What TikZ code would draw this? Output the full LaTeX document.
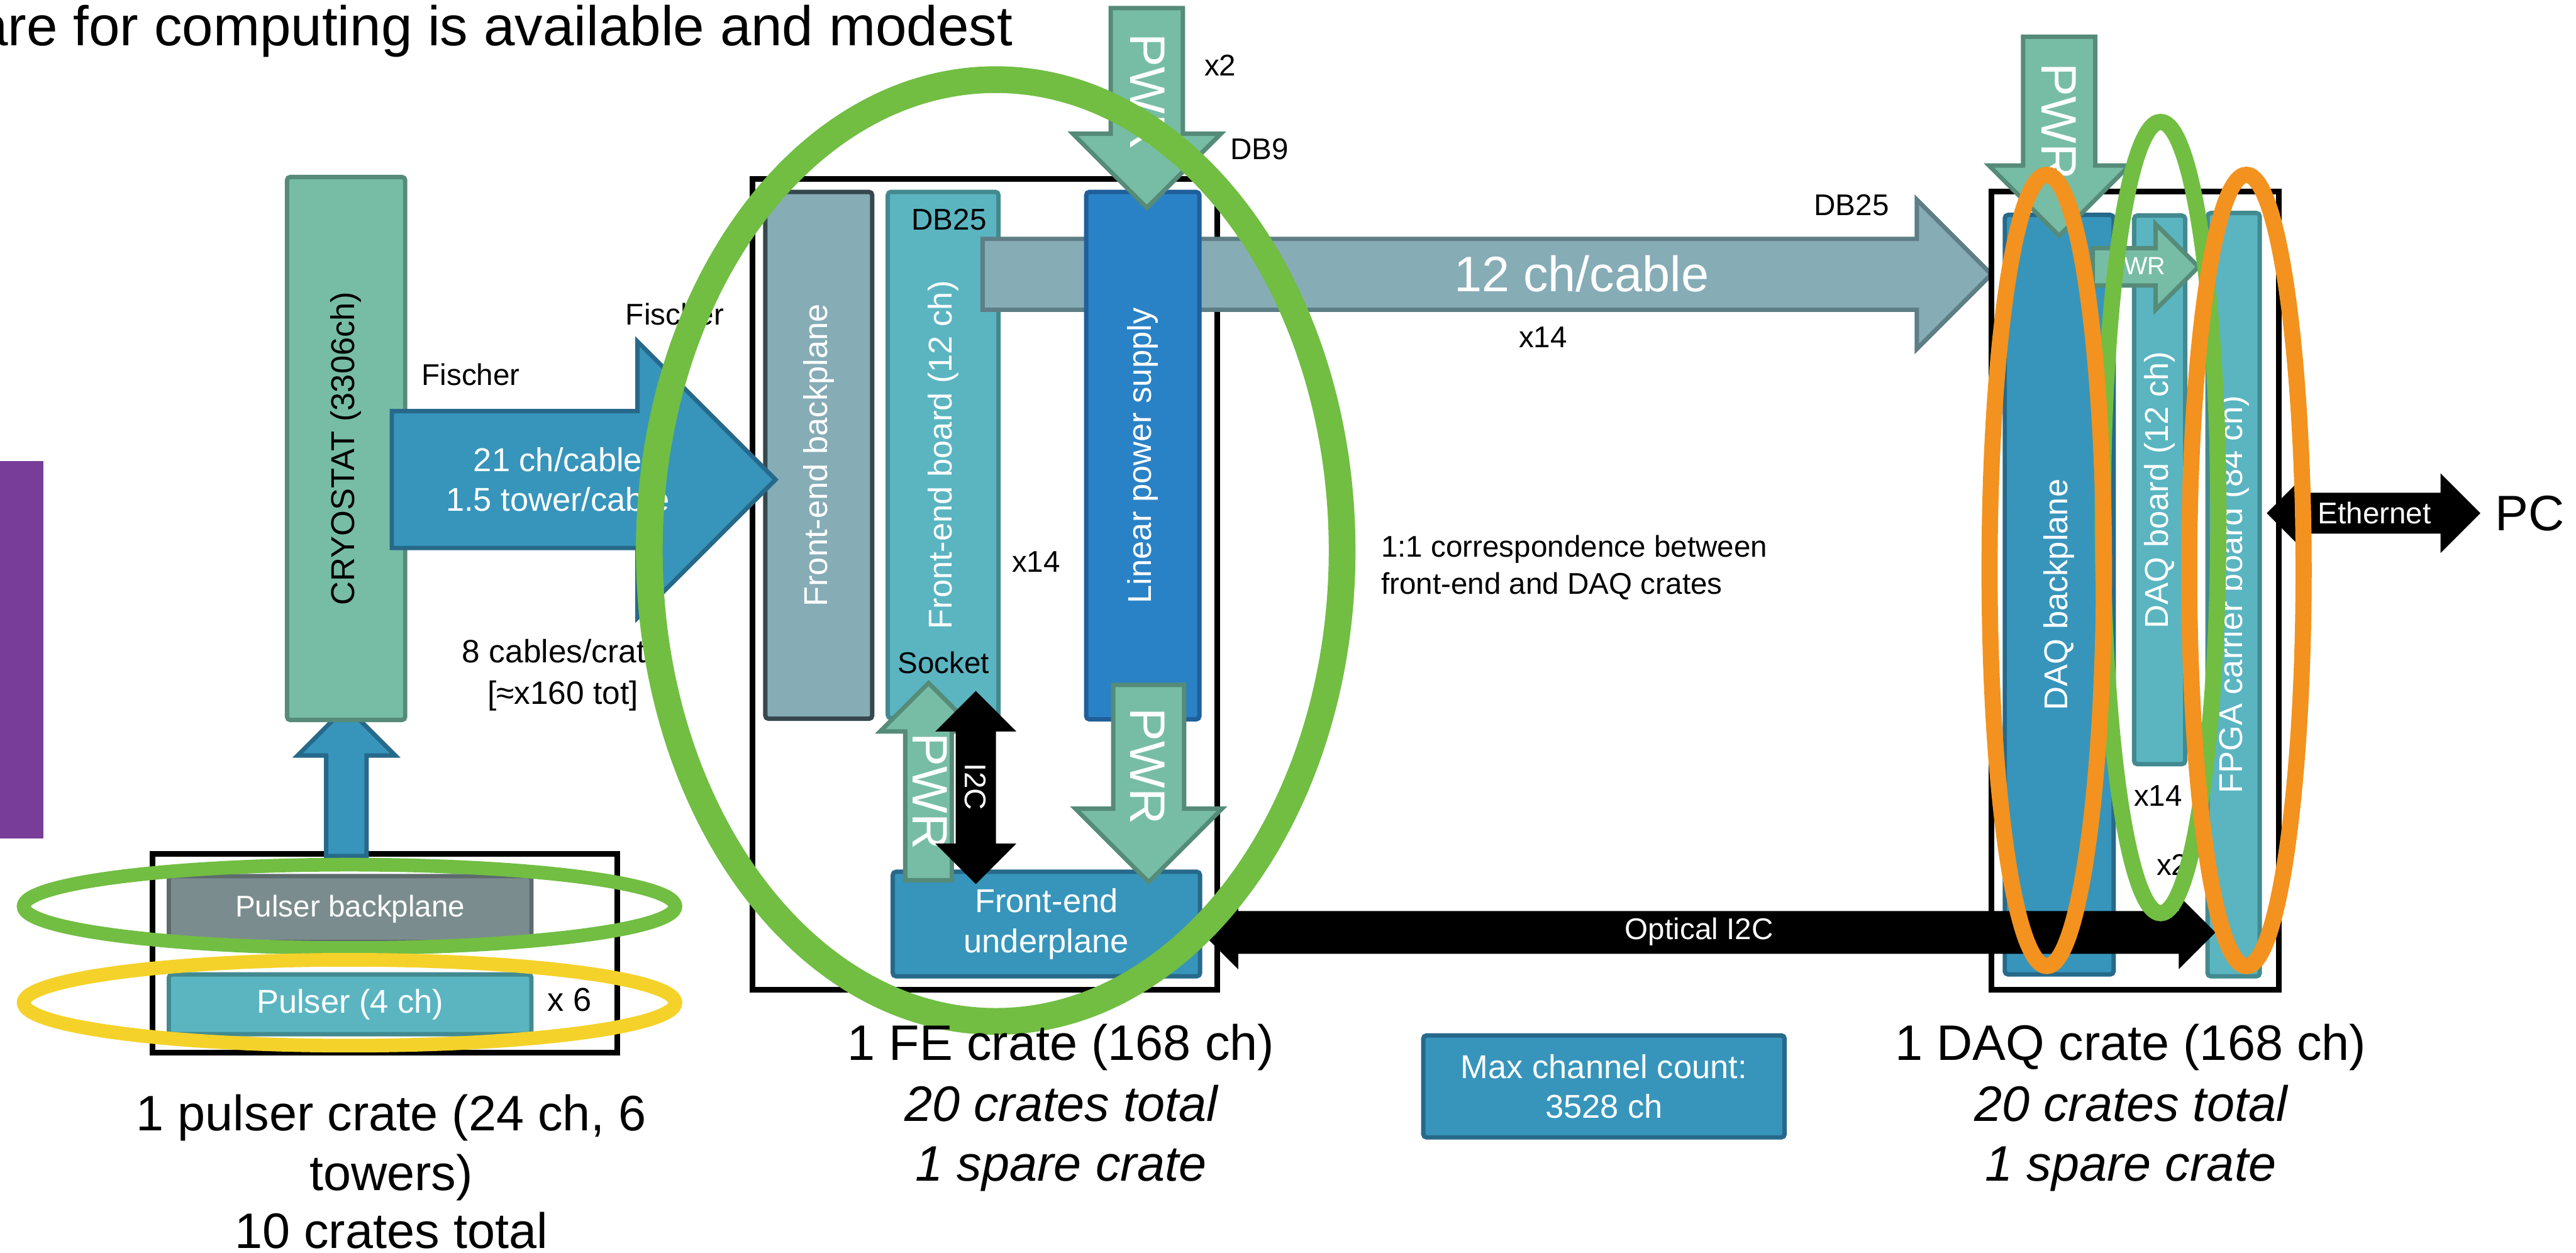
\documentclass[tikz,border=0pt]{standalone}
\usepackage{fontspec}
\setmainfont{Liberation Sans}

\definecolor{PwrClr}{HTML}{77BDA5}
\definecolor{PwrEdge}{HTML}{558B78}
\definecolor{SteelClr}{HTML}{3795BB}
\definecolor{SteelEdge}{HTML}{27698A}
\definecolor{BoardClr}{HTML}{5AB5C1}
\definecolor{BoardEdge}{HTML}{428A90}
\definecolor{PlaneClr}{HTML}{86ACB6}
\definecolor{PlaneEdge}{HTML}{36474D}
\definecolor{CableEdge}{HTML}{5E7E86}
\definecolor{SupplyClr}{HTML}{2A82C6}
\definecolor{SupplyEdge}{HTML}{1F5F9A}
\definecolor{PulserBpClr}{HTML}{7B8C8E}
\definecolor{PulserBpEdge}{HTML}{5E6B6D}
\definecolor{RingGreen}{HTML}{71BE43}
\definecolor{RingOrange}{HTML}{F3921E}
\definecolor{RingYellow}{HTML}{F5D22A}
\definecolor{BarPurple}{HTML}{773D98}

\newcommand{\fntTitle}{\fontsize{25.6}{30}\selectfont}
\newcommand{\fntCap}{\fontsize{22.8}{27.9}\selectfont}
\newcommand{\fntBox}{\fontsize{15.1}{18.2}\selectfont}
\newcommand{\fntLbl}{\fontsize{13.7}{16.8}\selectfont}
\newcommand{\fntPwr}{\fontsize{11.4}{13}\selectfont}

% block arrow with a square tip: [style]{tail}{angle}{length}{shaft width}{head width}
\newcommand{\blockarrow}[6][]{%
  \draw[#1,shift={(#2)},rotate=#3] (0,-#5/2) -- (#4-#6/2,-#5/2) -- (#4-#6/2,-#6/2)
    -- (#4,0) -- (#4-#6/2,#6/2) -- (#4-#6/2,#5/2) -- (0,#5/2) -- cycle;}
% same, with a head at both ends
\newcommand{\dblarrow}[6][]{%
  \draw[#1,shift={(#2)},rotate=#3] (0,0) -- (#6/2,#6/2) -- (#6/2,#5/2) -- (#4-#6/2,#5/2)
    -- (#4-#6/2,#6/2) -- (#4,0) -- (#4-#6/2,-#6/2) -- (#4-#6/2,-#5/2)
    -- (#6/2,-#5/2) -- (#6/2,-#6/2) -- cycle;}

\begin{document}
\begin{tikzpicture}[
  panel/.style={draw,line width=2pt,rounded corners=1.5pt,inner sep=0pt,text=white,font=\fntBox},
  crate/.style={draw,line width=2.6pt,inner sep=0pt},
  lbl/.style={inner sep=0pt,font=\fntLbl},
  caption/.style={anchor=base,inner sep=0pt,font=\fntCap},
  pwrarrow/.style={fill=PwrClr,draw=PwrEdge,line width=2pt},
  bluearrow/.style={fill=SteelClr,draw=SteelEdge,line width=2pt},
  cablearrow/.style={fill=PlaneClr,draw=CableEdge,line width=2pt},
  blackarrow/.style={fill=black,draw=black,line width=.5pt},
  pwrtext/.style={rotate=-90,text=white,inner sep=0pt,font=\fntCap}
]
\useasboundingbox (0,0) rectangle (41.42,-20.14);

\node[anchor=base east,inner sep=0pt,font=\fntTitle] (title) at (16.29,-0.73)
  {are for computing is available and modest};
\fill[BarPurple] (0,-7.41) rectangle (0.70,-13.48);

% pulser crate
\node[crate,minimum width=7.47cm,minimum height=3.20cm] (pcrate) at (6.19,-15.325) {};
\node[panel,fill=PulserBpClr,draw=PulserBpEdge,font=\fntLbl,
  minimum width=5.83cm,minimum height=1.06cm] (pbp) at (5.63,-14.615) {Pulser backplane};
\node[panel,fill=BoardClr,draw=BoardEdge,
  minimum width=5.83cm,minimum height=0.96cm] (pulser) at (5.63,-16.145) {Pulser (4 ch)};
\node[inner sep=0pt,font=\fntBox] (px6) at (9.16,-16.07) {x 6};
\blockarrow[bluearrow]{5.57,-13.76}{90}{2.40}{0.65}{1.57}
\draw[RingGreen,line width=0.22cm] (5.62,-14.57) ellipse [x radius=5.24,y radius=0.67];
\draw[RingYellow,line width=0.22cm] (5.62,-16.12) ellipse [x radius=5.24,y radius=0.69];
\node[caption] (pcap1) at (6.29,-18.18) {1 pulser crate (24 ch, 6};
\node[caption] (pcap2) at (6.29,-19.14) {towers)};
\node[caption] (pcap3) at (6.29,-20.07) {10 crates total};

% cryostat and cables
\node[panel,fill=PwrClr,draw=PwrEdge,text=black,rotate=90,
  minimum width=8.73cm,minimum height=1.90cm] (cryo) at (5.565,-7.21) {CRYOSTAT (3306ch)};
\node[lbl] (fisch1) at (7.57,-6.02) {Fischer};
\node[lbl] (fisch2) at (10.85,-5.05) {Fischer};
\node[inner sep=0pt,align=center,font=\fontsize{14.8}{19}\selectfont] (ncables) at (9.05,-10.85)
  {8 cables/crate\\{[}≈x160 tot{]}};

% front-end crate
\node[crate,minimum width=7.48cm,minimum height=13.04cm] (fecrate) at (15.835,-9.395) {};
\node[panel,fill=PlaneClr,draw=PlaneEdge,rotate=90,
  minimum width=8.47cm,minimum height=1.72cm] (febp) at (13.165,-7.32) {Front-end backplane};
\blockarrow[bluearrow]{6.30,-7.71}{0}{6.17}{2.20}{4.44}
\node[inner sep=0pt,align=center,text=white,font=\fntBox] (cablelbl) at (8.97,-7.71)
  {21 ch/cable\\1.5 tower/cable};
\node[panel,fill=BoardClr,draw=BoardEdge,rotate=90,
  minimum width=8.46cm,minimum height=1.78cm] (feboard) at (15.165,-7.315) {Front-end board (12 ch)};
\blockarrow[cablearrow]{15.80,-4.41}{0}{16.22}{1.14}{2.40}
\node[inner sep=0pt,text=white,font=\fntCap] (chcable) at (25.43,-4.40) {12 ch/cable};
\node[panel,fill=SupplyClr,draw=SupplyEdge,rotate=90,
  minimum width=8.48cm,minimum height=1.82cm] (lps) at (18.375,-7.325) {Linear power supply};
\blockarrow[pwrarrow]{18.44,-0.13}{-90}{3.21}{1.16}{2.38}
\node[pwrtext] (pwrfe) at (18.45,-1.48) {PWR};
\node[panel,fill=SteelClr,draw=SteelEdge,align=center,
  minimum width=4.94cm,minimum height=1.68cm] (under) at (16.825,-14.855) {Front-end\\underplane};
\blockarrow[pwrarrow]{18.47,-11.01}{-90}{3.17}{1.14}{2.36}
\node[pwrtext] (pwrlps) at (18.45,-12.32) {PWR};
\blockarrow[pwrarrow]{14.93,-14.15}{90}{3.17}{0.75}{1.56}
\node[pwrtext] (pwrsock) at (14.95,-12.72) {PWR};
\dblarrow[blackarrow]{15.69,-11.12}{-90}{3.08}{0.63}{1.26}
\node[pwrtext,font=\fntLbl] (itwoc) at (15.68,-12.65) {I2C};

\node[lbl] (db25a) at (15.26,-3.53) {DB25};
\node[lbl] (socket) at (15.17,-10.65) {Socket};
\node[lbl] (fex14) at (16.66,-9.03) {x14};
\node[lbl] (fex2) at (19.62,-1.05) {x2};
\node[lbl] (db9) at (20.25,-2.40) {DB9};
\node[lbl] (db25b) at (29.77,-3.30) {DB25};
\node[lbl] (cabx14) at (24.81,-5.42) {x14};
\node[lbl,anchor=west,align=left] (corresp) at (22.20,-9.125)
  {1:1 correspondence between\\front-end and DAQ crates};

% DAQ crate
\node[crate,minimum width=4.62cm,minimum height=12.84cm] (daqcrate) at (34.335,-9.495) {};
\node[panel,fill=SteelClr,draw=SteelEdge,rotate=90,
  minimum width=12.21cm,minimum height=1.75cm] (daqbp) at (33.11,-9.56) {DAQ backplane};
\node[panel,fill=BoardClr,draw=BoardEdge,rotate=90,
  minimum width=8.82cm,minimum height=0.82cm] (daqboard) at (34.725,-7.875) {DAQ board (12 ch)};
\node[panel,fill=BoardClr,draw=BoardEdge,rotate=90,
  minimum width=12.27cm,minimum height=0.84cm] (fpga) at (35.915,-9.56) {FPGA carrier board (84 ch)};
\blockarrow[pwrarrow]{33.65,-4.29}{0}{1.70}{0.60}{1.38}
\node[inner sep=0pt,text=white,font=\fntPwr] (pwrsmall) at (34.35,-4.28) {PWR};
\blockarrow[pwrarrow]{33.11,-0.59}{-90}{3.20}{1.16}{2.26}
\node[pwrtext] (pwrdaq) at (33.10,-1.95) {PWR};
\node[lbl] (daqx14) at (34.70,-12.79) {x14};
\node[lbl] (daqx2) at (34.93,-13.90) {x2};
\dblarrow[blackarrow]{36.46,-8.25}{0}{3.41}{0.64}{1.24}
\node[lbl,text=white] (eth) at (38.18,-8.25) {Ethernet};
\node[inner sep=0pt,font=\fntCap] (pc) at (40.68,-8.25) {PC};

\dblarrow[blackarrow]{19.33,-14.99}{0}{16.28}{0.67}{1.14}
\node[lbl,text=white] (optical) at (27.32,-14.98) {Optical I2C};

\node[panel,fill=SteelClr,draw=SteelEdge,align=center,
  minimum width=5.81cm,minimum height=1.64cm] (maxch) at (25.79,-17.465)
  {Max channel count:\\3528 ch};

% highlight rings
\draw[RingGreen,line width=0.43cm] (16.01,-8.85) ellipse [x radius=5.57,y radius=7.57];
\draw[RingGreen,line width=0.26cm] (34.74,-8.32) ellipse [x radius=0.93,y radius=6.36];
\draw[RingOrange,line width=0.26cm] (32.91,-9.17) ellipse [x radius=0.92,y radius=6.36];
\draw[RingOrange,line width=0.26cm] (36.12,-9.17) ellipse [x radius=0.92,y radius=6.36];

\node[caption] (fecap1) at (17.06,-17.04) {1 FE crate (168 ch)};
\node[caption] (fecap2) at (17.06,-18.02) {\itshape 20 crates total};
\node[caption] (fecap3) at (17.06,-18.99) {\itshape 1 spare crate};
\node[caption] (dqcap1) at (34.26,-17.04) {1 DAQ crate (168 ch)};
\node[caption] (dqcap2) at (34.26,-18.02) {\itshape 20 crates total};
\node[caption] (dqcap3) at (34.26,-18.99) {\itshape 1 spare crate};
\end{tikzpicture}
\end{document}
